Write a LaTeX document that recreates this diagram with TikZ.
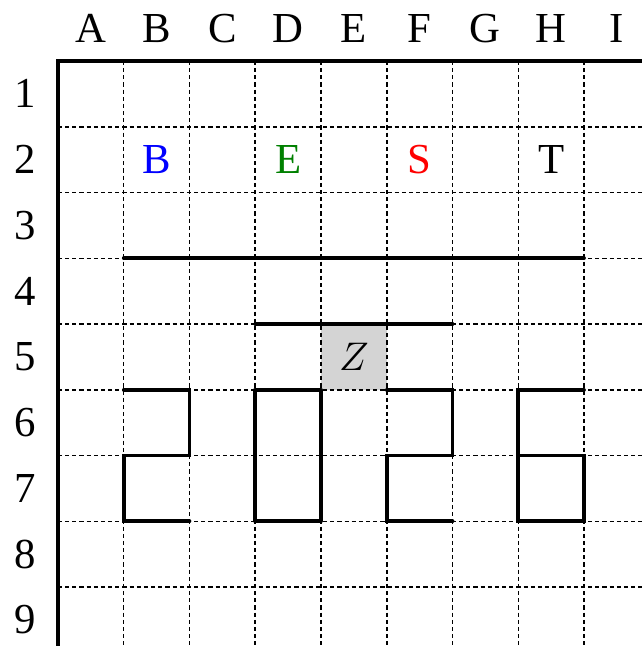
\documentclass[tikz,border=0pt]{standalone}
\usepackage{fontspec}
\setmainfont{Liberation Serif}
\usepackage{amsmath, amssymb}
\usepackage{tikz}
\usetikzlibrary{calc}
\usepackage{tkz-euclide}
\usepackage{xcolor}

\begin{document}
\begin{tikzpicture}[scale=1,
            gridline/.style={black, line width=0.65pt, dash pattern=on 1.8pt off 1.3pt},
            stroke/.style={black, line width=1.6pt},
            label/.style={font=\fontsize{18.5}{22}\selectfont, inner sep=0pt}]
            \useasboundingbox (-0.882,0.928) rectangle (8.882,-8.897);
            \fill[black!17] (4,-4) rectangle (5,-5);
            \foreach \i in {1,...,8} {
                \draw[gridline] (\i,0) -- (\i,-8.897);
                \draw[gridline] (0,-\i) -- (8.882,-\i);
            }
            \draw[stroke] (0,-8.897) -- (0,0) -- (8.882,0);
            \foreach \c [count=\i] in {A,...,I}
                \node[label] (col\c) at (\i-0.5,0.5) {\c};
            \foreach \r in {1,...,9}
                \node[label] (row\r) at (-0.5,0.5-\r) {\r};
            \node[label, text=blue] (letB) at (1.5,-1.5) {B};
            \node[label, text=green!50!black] (letE) at (3.5,-1.5) {E};
            \node[label, text=red] (letS) at (5.5,-1.5) {S};
            \node[label] (letT) at (7.5,-1.5) {T};
            \node[label] (letZ) at (4.5,-4.5) {$Z$};
            \tkzDefPoints{1/-3/L1, 8/-3/L2, 3/-4/M1, 6/-4/M2}
            \tkzDrawSegments[stroke](L1,L2 M1,M2)
            % digit 2
            \tkzDefPoints{1/-5/a1, 2/-5/a2, 2/-6/a3, 1/-6/a4, 1/-7/a5, 2/-7/a6}
            \tkzDrawPolySeg[stroke](a1,a2,a3,a4,a5,a6)
            % digit 0
            \tkzDefPoints{3/-5/b1, 4/-5/b2, 4/-7/b3, 3/-7/b4}
            \tkzDrawPolygon[stroke](b1,b2,b3,b4)
            % digit 2
            \tkzDefPoints{5/-5/c1, 6/-5/c2, 6/-6/c3, 5/-6/c4, 5/-7/c5, 6/-7/c6}
            \tkzDrawPolySeg[stroke](c1,c2,c3,c4,c5,c6)
            % digit 6
            \tkzDefPoints{8/-5/d1, 7/-5/d2, 7/-7/d3, 8/-7/d4, 8/-6/d5, 7/-6/d6}
            \tkzDrawPolySeg[stroke](d1,d2,d3,d4,d5,d6)
        \end{tikzpicture}
\end{document}
